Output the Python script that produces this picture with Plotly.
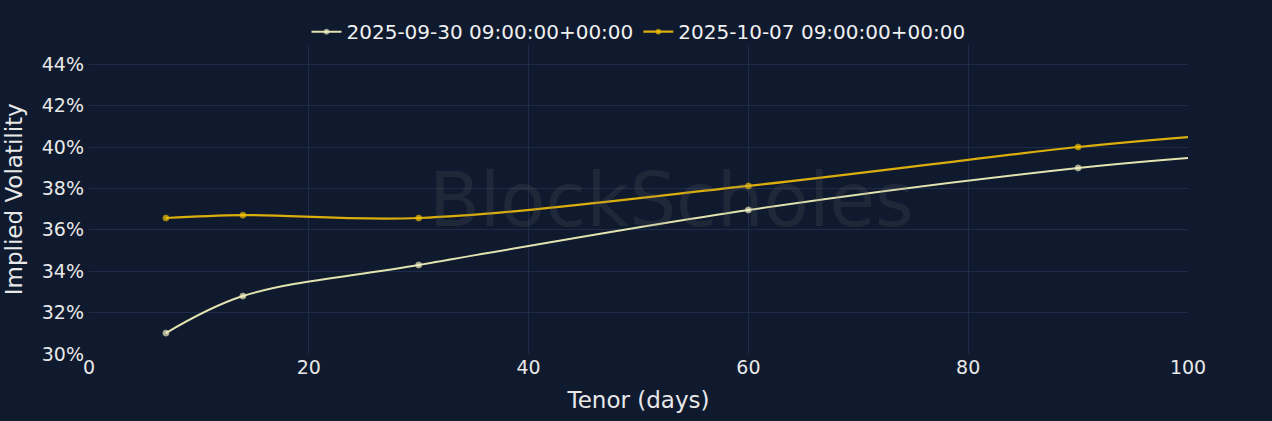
import plotly.graph_objects as go

tenor = [7, 14, 30, 60, 90, 100]
iv_0930 = [0.3101, 0.3280, 0.3430, 0.3696, 0.3899, 0.3947]
iv_1007 = [0.3657, 0.3671, 0.3657, 0.3812, 0.4000, 0.4048]
names = ["2025-09-30 09:00:00+00:00", "2025-10-07 09:00:00+00:00"]
marker_sizes = [6, 6, 6, 6, 6, 0]

bg = "#0f1a2e"
grid = "#1e2c4a"
font = "DejaVu Sans"

fig = go.Figure()
fig.add_trace(go.Scatter(
    x=tenor, y=iv_0930, name=names[0], mode="lines+markers",
    line=dict(color="#e3e3b0", width=2, shape="spline"),
    marker=dict(size=marker_sizes, color="#f4f4c8"),
))
fig.add_trace(go.Scatter(
    x=tenor, y=iv_1007, name=names[1], mode="lines+markers",
    line=dict(color="#dcae0c", width=2.2, shape="spline"),
    marker=dict(size=marker_sizes, color="#f7c800"),
))

fig.add_annotation(
    text="BlockScholes", x=0.53, y=0.50, xref="paper", yref="paper",
    showarrow=False, font=dict(family=font, size=74, color="rgba(110,110,110,0.17)"),
)
fig.add_annotation(
    text="Implied Volatility", x=-0.0685, y=0.5, xref="paper", yref="paper",
    xanchor="center", yanchor="middle", textangle=-90, showarrow=False,
    font=dict(family=font, size=23, color="#e8e8e8"),
)

fig.update_layout(
    width=1272, height=421,
    paper_bgcolor=bg, plot_bgcolor=bg,
    margin=dict(l=89, r=84, t=45, b=67, autoexpand=False),
    font=dict(family=font, color="#e8e8e8", size=19),
    showlegend=True,
    legend=dict(orientation="h", x=0.5, xanchor="center", y=0.98, yanchor="bottom",
                font=dict(size=20, color="#f0f0f0"), bgcolor="rgba(0,0,0,0)"),
    xaxis=dict(
        range=[0, 100], tickvals=[0, 20, 40, 60, 80, 100],
        showgrid=True, gridcolor=grid, zeroline=False, showline=False,
        title=dict(text="Tenor (days)", font=dict(size=23), standoff=14),
        tickfont=dict(size=19),
    ),
    yaxis=dict(
        range=[0.30, 0.4493], tickvals=[0.30, 0.32, 0.34, 0.36, 0.38, 0.40, 0.42, 0.44],
        tickformat=".0%", showgrid=True, gridcolor=grid, zeroline=False, showline=False,
        tickfont=dict(size=19), ticklabelstandoff=4,
    ),
)

fig.write_html("out.html", config={"displayModeBar": False},
               post_script="document.body.style.margin='0';document.body.style.overflow='hidden';")
